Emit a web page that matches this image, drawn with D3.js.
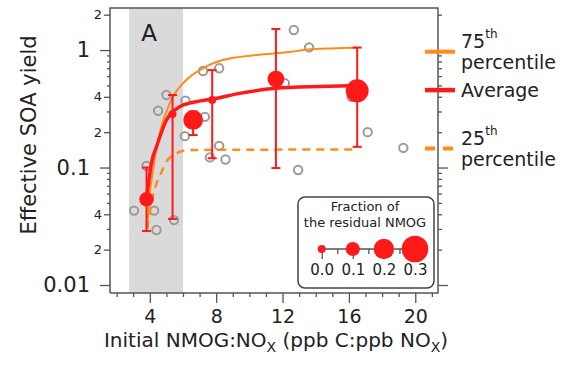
<!DOCTYPE html>
<html><head><meta charset="utf-8">
<script src="https://cdn.jsdelivr.net/npm/d3@7"></script>
<style>
body{margin:0;background:#fff}
svg{display:block}
text{font-family:"DejaVu Sans",sans-serif;fill:#222}
</style>
</head><body>
<svg id="c" width="565" height="368"></svg>
<script>
// ---- data ----
const avgX   = [3.8, 5.37, 6.61, 7.76, 11.6, 16.5];
const avgY   = [0.0536, 0.285, 0.254, 0.375, 0.567, 0.45];
const avgHi  = [0.1, 0.414, 0.3, 0.675, 1.51, 1.05];
const avgLo  = [0.0288, 0.0365, 0.189, 0.12, 0.099, 0.15];
const avgFrac= [0.105, 0.0, 0.19, 0.0, 0.14, 0.24];

const obsX = [5.0, 4.5, 6.15, 7.32, 6.11, 3.8, 8.18, 7.62, 8.56, 3.05, 4.26, 4.4, 5.46, 7.21, 8.18, 12.68, 13.6, 12.14, 17.13, 19.28, 12.94, 16.16];
const obsY = [0.414, 0.304, 0.37, 0.27, 0.185, 0.103, 0.153, 0.122, 0.117, 0.043, 0.043, 0.0294, 0.0357, 0.663, 0.699, 1.48, 1.054, 0.521, 0.2, 0.147, 0.0953, 0.40];

const p75X = [3.85, 4.0, 4.2, 4.5, 5.2, 6.2, 7.2, 8.4, 10.4, 12.4, 13.7, 16.5];
const p75Y = [0.032, 0.06, 0.095, 0.171, 0.352, 0.556, 0.699, 0.822, 0.907, 0.962, 1.014, 1.046];
const avgCurveX = [3.8, 4.0, 4.14, 4.4, 5.0, 5.8, 6.8, 7.8, 9.4, 11.6, 14.2, 16.5];
const avgCurveY = [0.054, 0.089, 0.116, 0.15, 0.254, 0.329, 0.363, 0.383, 0.428, 0.472, 0.489, 0.497];
const p25X = [3.85, 4.1, 4.4, 4.7, 4.9, 5.6, 6.4, 16.5];
const p25Y = [0.03, 0.05, 0.073, 0.091, 0.106, 0.132, 0.141, 0.1425];

const legendLabels = ["75", "Average", "25"];
const legendVals = [0.968, 0.456, 0.145];

const fracLegend = [0.0, 0.1, 0.2, 0.3];
const xTickLabels = [4, 8, 12, 16, 20];
const yMajor = [0.01, 0.1, 1];
const yMinorLabeled = [0.02, 0.04, 0.2, 0.4, 2];
const shadeRange = [2.75, 6.0];

// ---- colours ----
const RED = "#ff1a1a", ORANGE = "#ff8c1a", GRAY = "#9a9a9a", AXIS = "#555";

const svg = d3.select("#c");
const L = 110, R = 438, T = 8, B = 293;
const x = d3.scaleLinear().domain([1.6, 21.37]).range([L, R]);
const y = d3.scaleLog().domain([0.00855, 2.28]).range([B, T]);
const r = d3.scaleLinear().domain([0, 0.3]).range([4, 13.3]);

// shaded band
svg.append("rect").attr("x", x(shadeRange[0])).attr("y", T)
  .attr("width", x(shadeRange[1]) - x(shadeRange[0])).attr("height", B - T)
  .attr("fill", "#dadada");

// "A"
svg.append("text").attr("x", 149).attr("y", 41).attr("text-anchor", "middle")
  .style("font-size", "23px").text("A");

// observations
svg.append("g").selectAll("circle").data(obsX).join("circle")
  .attr("cx", (d) => x(d)).attr("cy", (d, i) => y(obsY[i])).attr("r", 4.2)
  .attr("fill", "none").attr("stroke", GRAY).attr("stroke-width", 2);

// curves
const line = d3.line().x(d => x(d[0])).y(d => y(d[1])).curve(d3.curveMonotoneX);
svg.append("path").attr("d", line(p75X.map((d, i) => [d, p75Y[i]])))
  .attr("fill", "none").attr("stroke", ORANGE).attr("stroke-width", 2);
svg.append("path").attr("d", line(p25X.map((d, i) => [d, p25Y[i]])))
  .attr("fill", "none").attr("stroke", ORANGE).attr("stroke-width", 2.5).attr("stroke-dasharray", "8,6");
svg.append("path").attr("d", line(avgCurveX.map((d, i) => [d, avgCurveY[i]])))
  .attr("fill", "none").attr("stroke", RED).attr("stroke-width", 3.5);

// error bars
const eb = svg.append("g").attr("stroke", RED).attr("stroke-width", 2);
avgX.forEach((d, i) => {
  const cx = x(d);
  eb.append("line").attr("x1", cx).attr("x2", cx).attr("y1", y(avgHi[i])).attr("y2", y(avgLo[i]));
  eb.append("line").attr("x1", cx - 4.5).attr("x2", cx + 4.5).attr("y1", y(avgHi[i])).attr("y2", y(avgHi[i]));
  eb.append("line").attr("x1", cx - 4.5).attr("x2", cx + 4.5).attr("y1", y(avgLo[i])).attr("y2", y(avgLo[i]));
});
svg.append("g").selectAll("circle").data(avgX).join("circle")
  .attr("cx", d => x(d)).attr("cy", (d, i) => y(avgY[i])).attr("r", (d, i) => r(avgFrac[i]))
  .attr("fill", RED);

// frame
svg.append("path").attr("d", `M${L},${B}V${T}H${R}V${B}H${L}`)
  .attr("fill", "none").attr("stroke", AXIS).attr("stroke-width", 1.5);

// axes
function styleAxis(g, fs) {
  g.select(".domain").remove();
  g.selectAll("line").attr("stroke", AXIS).attr("stroke-width", 1.3);
  g.selectAll("text").style("font-size", fs).style("font-family", '"DejaVu Sans",sans-serif').attr("fill", "#222");
}
const allTicks = y.ticks().filter(v => v >= 0.0099);
const minorOnly = allTicks.filter(v => !yMajor.some(m => Math.abs(m - v) < 1e-9) && !yMinorLabeled.some(m => Math.abs(m - v) / m < 1e-6));
svg.append("g").attr("transform", `translate(${L},0)`)
  .call(d3.axisLeft(y).tickValues(yMajor).tickSize(10).tickPadding(10).tickFormat(d3.format("~g")))
  .call(g => styleAxis(g, "21px"));
svg.append("g").attr("transform", `translate(${L},0)`)
  .call(d3.axisLeft(y).tickValues(yMinorLabeled).tickSize(6).tickPadding(2).tickFormat(d => String(Math.round(d / Math.pow(10, Math.floor(Math.log10(d) + 1e-9))))))
  .call(g => styleAxis(g, "13px"));
svg.append("g").attr("transform", `translate(${L},0)`)
  .call(d3.axisLeft(y).tickValues(minorOnly).tickSize(3).tickFormat(""))
  .call(g => styleAxis(g, "1px"));

// right axis (log, unlabeled)
svg.append("g").attr("transform", `translate(${R},0)`)
  .call(d3.axisRight(y).tickValues(yMajor).tickSize(10).tickFormat(""))
  .call(g => styleAxis(g, "1px"));
svg.append("g").attr("transform", `translate(${R},0)`)
  .call(d3.axisRight(y).tickValues(allTicks.filter(v => !yMajor.some(m => Math.abs(m - v) < 1e-9))).tickSize(4).tickFormat(""))
  .call(g => styleAxis(g, "1px"));

// bottom axis
const xAll = d3.range(2, 22);
svg.append("g").attr("transform", `translate(0,${B})`)
  .call(d3.axisBottom(x).tickValues(xAll.filter(v => !xTickLabels.includes(v))).tickSize(4).tickFormat(""))
  .call(g => styleAxis(g, "1px"));
svg.append("g").attr("transform", `translate(0,${B})`)
  .call(d3.axisBottom(x).tickValues(xTickLabels).tickSize(10).tickPadding(7))
  .call(g => styleAxis(g, "19px"));

// axis titles
svg.append("text").attr("transform", "translate(36,135) rotate(-90)").attr("text-anchor", "middle")
  .style("font-size", "21px").text("Effective SOA yield");
const xt = svg.append("text").attr("x", 276).attr("y", 347).attr("text-anchor", "middle").style("font-size", "20px");
xt.append("tspan").text("Initial NMOG:NO");
xt.append("tspan").attr("dy", 5).style("font-size", "14px").text("X");
xt.append("tspan").attr("dy", -5).text(" (ppb C:ppb NO");
xt.append("tspan").attr("dy", 5).style("font-size", "14px").text("X");
xt.append("tspan").attr("dy", -5).text(")");

// right legend
const lg = svg.append("g");
lg.append("line").attr("x1", 425).attr("x2", 455).attr("y1", y(legendVals[0])).attr("y2", y(legendVals[0]))
  .attr("stroke", ORANGE).attr("stroke-width", 4);
lg.append("line").attr("x1", 425).attr("x2", 455).attr("y1", y(legendVals[1])).attr("y2", y(legendVals[1]))
  .attr("stroke", RED).attr("stroke-width", 4.5);
lg.append("line").attr("x1", 425).attr("x2", 455).attr("y1", y(legendVals[2])).attr("y2", y(legendVals[2]))
  .attr("stroke", ORANGE).attr("stroke-width", 4).attr("stroke-dasharray", "10,8");
function pctLabel(val, num) {
  const yy = y(val);
  const t = lg.append("text").attr("x", 461).attr("y", yy - 4).style("font-size", "19px");
  t.append("tspan").text(num);
  t.append("tspan").attr("dy", -10).style("font-size", "12px").text("th");
  lg.append("text").attr("x", 461).attr("y", yy + 17).style("font-size", "19px").text("percentile");
}
pctLabel(legendVals[0], legendLabels[0]);
lg.append("text").attr("x", 461).attr("y", y(legendVals[1]) + 7).style("font-size", "19px").text(legendLabels[1]);
pctLabel(legendVals[2], legendLabels[2]);

// size legend box
const bx = svg.append("g");
bx.append("rect").attr("x", 298).attr("y", 197).attr("width", 136).attr("height", 91).attr("rx", 7)
  .attr("fill", "#fff").attr("stroke", "#444").attr("stroke-width", 1.5);
bx.append("text").attr("x", 365).attr("y", 211).attr("text-anchor", "middle").style("font-size", "13px").text("Fraction of");
bx.append("text").attr("x", 365).attr("y", 227).attr("text-anchor", "middle").style("font-size", "13px").text("the residual NMOG");
const fx = d3.scaleLinear().domain([0, 0.3]).range([321.7, 415]);
bx.append("g").attr("transform", "translate(0,249)")
  .call(d3.axisBottom(fx).tickValues([0.05, 0.15, 0.25]).tickSize(5).tickFormat(""))
  .call(g => styleAxis(g, "1px"));
bx.append("g").attr("transform", "translate(0,249)")
  .call(d3.axisBottom(fx).tickValues(fracLegend).tickSize(10).tickPadding(5).tickFormat(d3.format(".1f")))
  .call(g => styleAxis(g, "15px"));
bx.append("line").attr("x1", fx(0)).attr("x2", fx(0.3)).attr("y1", 249).attr("y2", 249).attr("stroke", AXIS).attr("stroke-width", 1.3);
bx.append("g").selectAll("circle").data(fracLegend).join("circle")
  .attr("cx", d => fx(d)).attr("cy", 249).attr("r", d => r(d)).attr("fill", RED);
</script>
</body></html>
